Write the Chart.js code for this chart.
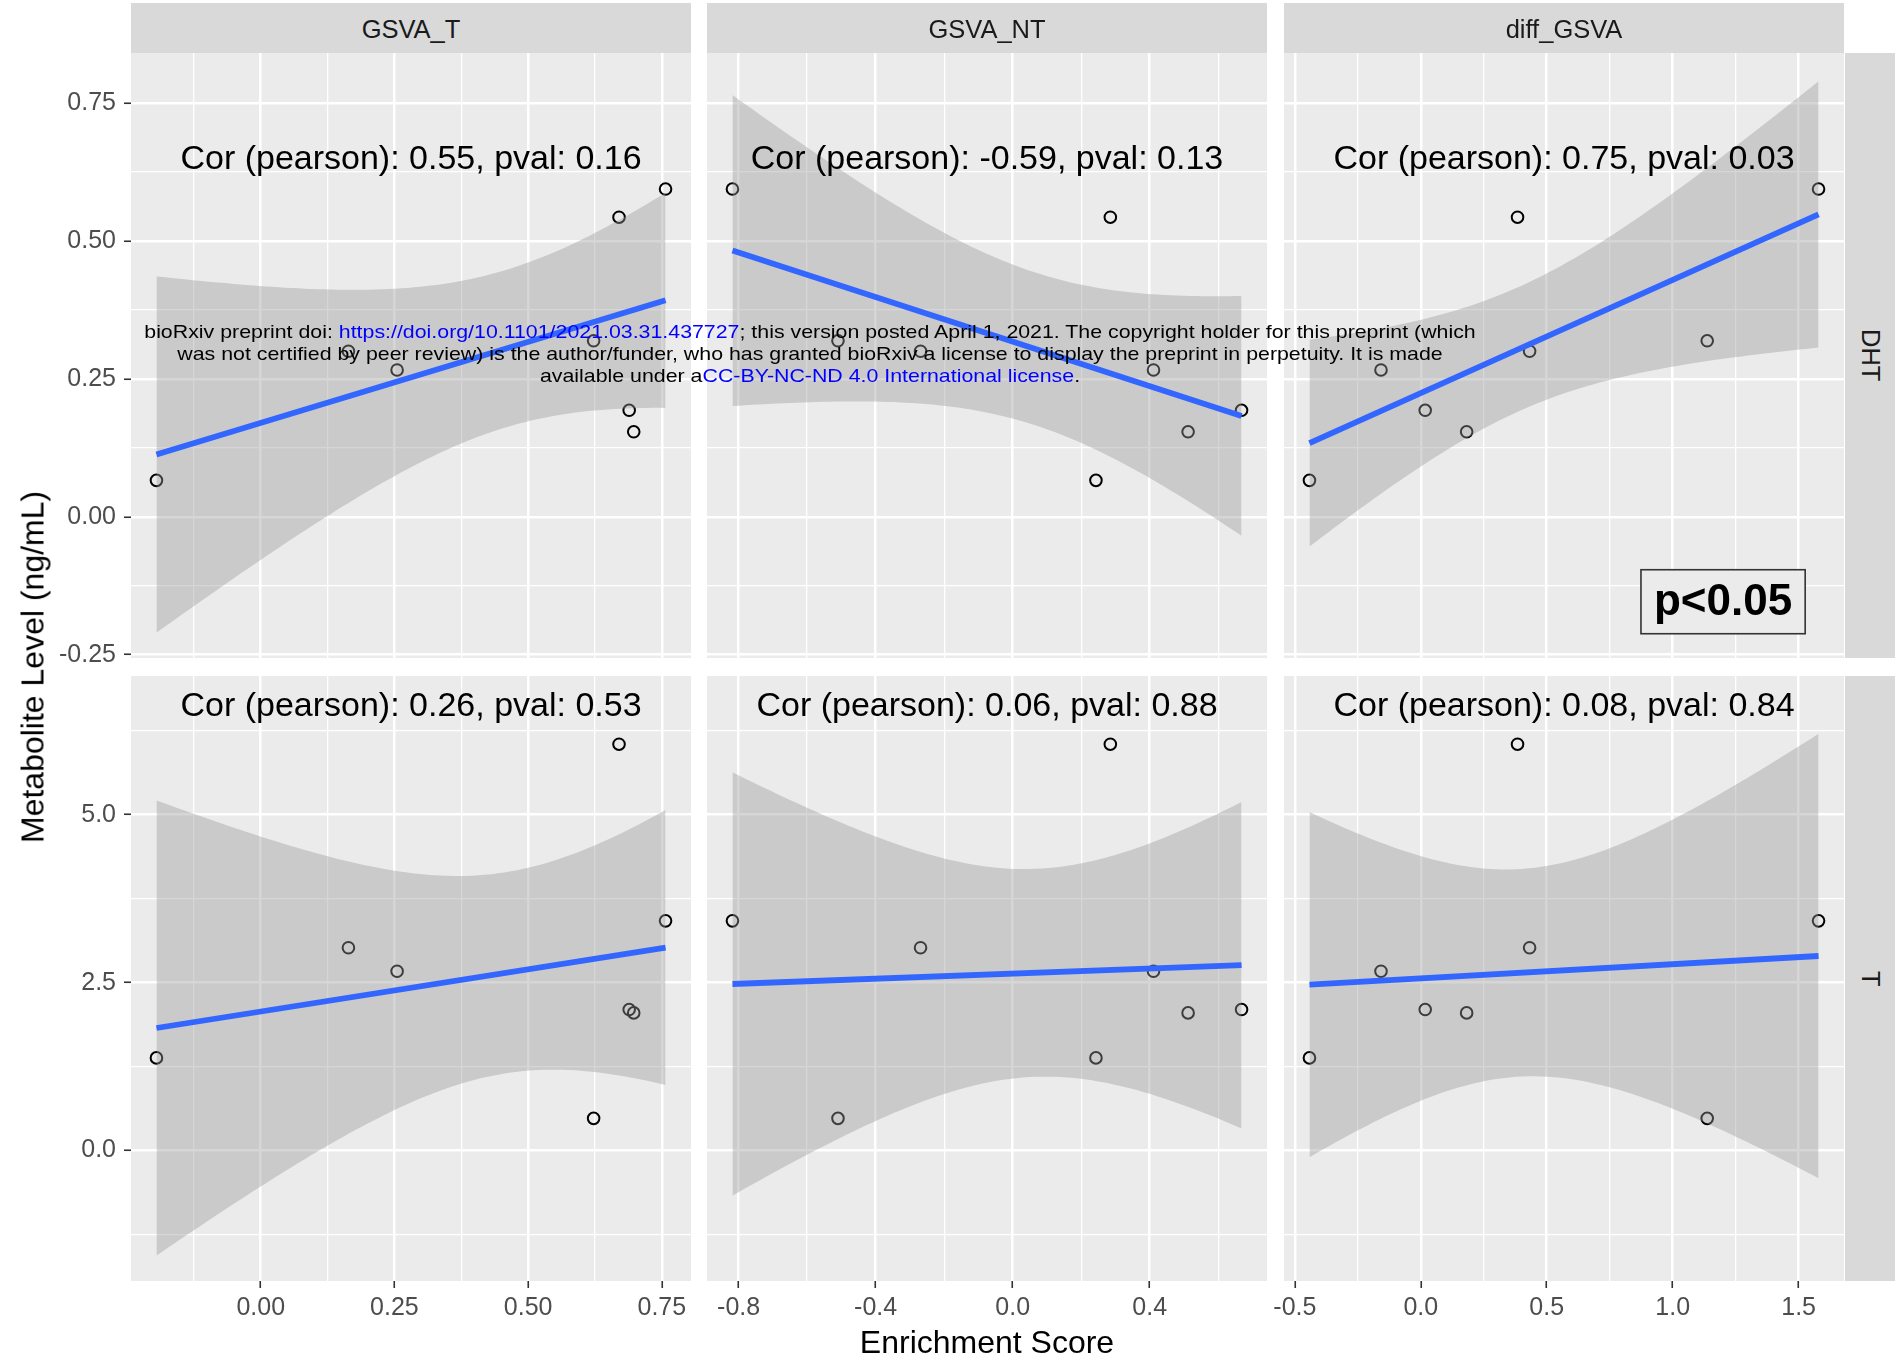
<!DOCTYPE html>
<html>
<head>
<meta charset="utf-8">
<title>Metabolite level vs enrichment score</title>
<script src="https://cdn.jsdelivr.net/npm/chart.js@4.4.1/dist/chart.umd.min.js"></script>
<style>
  html, body { margin: 0; padding: 0; background: #fff; }
  #page {
    position: relative; width: 1901px; height: 1372px; overflow: hidden;
    font-family: 'Liberation Sans', Arial, Helvetica, sans-serif;
  }
  #page canvas { position: absolute; }
  .strip {
    position: absolute; background: #D9D9D9; color: #1A1A1A; font-size: 25.5px;
    display: flex; align-items: center; justify-content: center; z-index: 2;
  }
  .strip.top span { padding-top: 3px; }
  .strip.side span { writing-mode: vertical-rl; }
  .axis-title { position: absolute; font-size: 32px; color: #000; white-space: nowrap; z-index: 2; }
  #wm {
    position: absolute; left: 0; width: 1620px; top: 321px; text-align: center;
    font-size: 19px; line-height: 21.8px; color: #000; white-space: nowrap;
    transform-origin: 810px 0; z-index: 3;
  }
  #wm .lnk { color: #0000FF; }
</style>
</head>
<body>
<div id="page">
  <div id="wm">
    <div id="wm1">bioRxiv preprint doi: <span class="lnk">https://doi.org/10.1101/2021.03.31.437727</span>; this version posted April 1, 2021. The copyright holder for this preprint (which</div>
    <div>was not certified by peer review) is the author/funder, who has granted bioRxiv a license to display the preprint in perpetuity. It is made</div>
    <div>available under a<span class="lnk">CC-BY-NC-ND 4.0 International license</span>.</div>
  </div>
</div>
<script>
// 8 samples, values
const GSVA_T    = [-0.195, 0.164, 0.255, 0.6225, 0.670, 0.757, 0.689, 0.6975];
const GSVA_NT   = [0.243, -0.269, 0.411, -0.510, 0.285, -0.818, 0.668, 0.512];
const DIFF_GSVA = [-0.442, 0.432, -0.158, 1.137, 0.384, 1.579, 0.0175, 0.182];
const DHT       = [0.066, 0.300, 0.266, 0.319, 0.543, 0.594, 0.193, 0.154];
const TESTO     = [1.38, 3.02, 2.67, 0.48, 6.05, 3.42, 2.10, 2.05];

const COLUMNS = ['GSVA_T', 'GSVA_NT', 'diff_GSVA'];
const ROWS = ['DHT', 'T'];

const COR_DHT = ['Cor (pearson): 0.55, pval: 0.16', 'Cor (pearson): -0.59, pval: 0.13', 'Cor (pearson): 0.75, pval: 0.03'];
const COR_T   = ['Cor (pearson): 0.26, pval: 0.53', 'Cor (pearson): 0.06, pval: 0.88', 'Cor (pearson): 0.08, pval: 0.84'];

const X_BREAKS_T    = [0, 0.25, 0.5, 0.75];
const X_BREAKS_NT   = [-0.8, -0.4, 0, 0.4];
const X_BREAKS_DIFF = [-0.5, 0, 0.5, 1, 1.5];
const Y_BREAKS_DHT  = [-0.25, 0, 0.25, 0.5, 0.75];
const Y_BREAKS_T    = [0, 2.5, 5];

// y ranges
const Y_LIMITS_DHT = [-0.256, 0.8406];
const Y_LIMITS_T   = [-1.941, 7.065];

const X_DECIMALS = [2, 1, 1];
const Y_DECIMALS = [2, 1];

const SIG_LABEL = 'p<0.05';

// layout (px)
const COL_LEFT = [131, 707, 1284];
const ROW_TOP = [53, 676];
const PANEL_W = 560, PANEL_H = 605;
const FONT = "'Liberation Sans', Arial, Helvetica, sans-serif";
const T_CRIT = 2.446912; // qt(0.975, df = 6)

Chart.defaults.font.family = FONT;

function mean(a) { return a.reduce((s, v) => s + v, 0) / a.length; }

// same thing geom_smooth(method = "lm") does
function smoothBand(xs, ys) {
  const n = xs.length, mx = mean(xs), my = mean(ys);
  let sxx = 0, sxy = 0;
  xs.forEach((x, i) => { sxx += (x - mx) ** 2; sxy += (x - mx) * (ys[i] - my); });
  const b = sxy / sxx, a = my - b * mx;
  let rss = 0;
  xs.forEach((x, i) => { rss += (ys[i] - a - b * x) ** 2; });
  const s = Math.sqrt(rss / (n - 2));
  const lo = Math.min(...xs), hi = Math.max(...xs);
  const line = [], lower = [], upper = [];
  for (let k = 0; k < 80; k++) {
    const x = lo + (hi - lo) * k / 79;
    const fit = a + b * x;
    const half = T_CRIT * s * Math.sqrt(1 / n + (x - mx) ** 2 / sxx);
    line.push({ x, y: fit });
    lower.push({ x, y: fit - half });
    upper.push({ x, y: fit + half });
  }
  return { line, lower, upper };
}

function expand(lo, hi) { const d = (hi - lo) * 0.05; return [lo - d, hi + d]; }

function withMinor(major, lo, hi) {
  const step = major[1] - major[0];
  const all = [];
  for (let i = -1; i < major.length; i++) {
    const m = (i < 0 ? major[0] - step : major[i]) + step / 2;
    if (m > lo && m < hi) all.push(m);
  }
  major.forEach(v => { if (v >= lo && v <= hi) all.push(v); });
  return all.sort((p, q) => p - q);
}

const isMajor = (major, v) => major.some(m => Math.abs(m - v) < 1e-9);

const xCols = [GSVA_T, GSVA_NT, DIFF_GSVA];
const yRows = [DHT, TESTO];
const xBreaks = [X_BREAKS_T, X_BREAKS_NT, X_BREAKS_DIFF];
const yBreaks = [Y_BREAKS_DHT, Y_BREAKS_T];
const yLimits = [Y_LIMITS_DHT, Y_LIMITS_T];
const corLabels = [COR_DHT, COR_T];

const bands = yRows.map(ys => xCols.map(xs => smoothBand(xs, ys)));
const xLimits = xCols.map(xs => expand(Math.min(...xs), Math.max(...xs)));

const panelDeco = {
  id: 'panelDeco',
  beforeDraw(chart) {
    const { ctx, chartArea: a } = chart;
    ctx.save();
    ctx.fillStyle = '#EBEBEB';
    ctx.fillRect(a.left, a.top, a.right - a.left, a.bottom - a.top);
    ctx.restore();
  },
  afterDraw(chart, args, opts) {
    const { ctx, scales: { x, y } } = chart;
    ctx.save();
    ctx.fillStyle = '#000';
    ctx.textAlign = 'center';
    ctx.textBaseline = 'middle';
    ctx.font = '34px ' + FONT;
    ctx.fillText(opts.label, x.getPixelForValue(opts.labelX), y.getPixelForValue(opts.labelY) + 3);
    if (opts.box) {
      ctx.font = 'bold 44px ' + FONT;
      const cx = x.getPixelForValue(opts.boxX), cy = y.getPixelForValue(opts.boxY);
      const w = ctx.measureText(opts.box).width + 26, h = 64;
      ctx.fillStyle = '#EBEBEB';
      ctx.fillRect(cx - w / 2, cy - h / 2, w, h);
      ctx.strokeStyle = '#333';
      ctx.lineWidth = 1.6;
      ctx.strokeRect(cx - w / 2, cy - h / 2, w, h);
      ctx.fillStyle = '#000';
      ctx.fillText(opts.box, cx, cy + 1);
    }
    ctx.restore();
  }
};

const page = document.getElementById('page');

function axisOpts(major, limits, decimals, showLabels, pos, fixedSize) {
  const ticks = withMinor(major, limits[0], limits[1]);
  return {
    type: 'linear', position: pos, min: limits[0], max: limits[1],
    afterBuildTicks: s => { s.ticks = ticks.map(v => ({ value: v })); },
    afterFit: s => { if (pos === 'left') s.width = fixedSize; else s.height = fixedSize; },
    border: { display: false },
    grid: {
      color: '#FFFFFF',
      lineWidth: c => (c.tick && isMajor(major, c.tick.value)) ? 2.5 : 1.3,
      drawTicks: showLabels,
      tickLength: 7,
      tickWidth: 1.6,
      tickColor: c => (c.tick && isMajor(major, c.tick.value)) ? '#333333' : 'rgba(0,0,0,0)'
    },
    ticks: {
      display: showLabels, autoSkip: false, maxRotation: 0, minRotation: 0,
      padding: pos === 'left' ? 8 : 5,
      color: '#4D4D4D', font: { size: 25 },
      callback: v => isMajor(major, v) ? Number(v).toFixed(decimals) : ''
    }
  };
}

for (let r = 0; r < 2; r++) {
  for (let c = 0; c < 3; c++) {
    const xs = xCols[c], ys = yRows[r], bd = bands[r][c];
    const padL = c === 0 ? 131 : 40, padR = 40, padT = 40, padB = r === 1 ? 90 : 40;
    const cv = document.createElement('canvas');
    const W = PANEL_W + padL + padR, H = PANEL_H + padT + padB;
    cv.width = W; cv.height = H;
    cv.style.width = W + 'px'; cv.style.height = H + 'px';
    cv.style.left = (COL_LEFT[c] - padL) + 'px';
    cv.style.top = (ROW_TOP[r] - padT) + 'px';
    page.appendChild(cv);

    const pts = xs.map((x, i) => ({ x, y: ys[i] }));
    const plugOpts = {
      label: corLabels[r][c],
      labelX: (Math.min(...xs) + Math.max(...xs)) / 2,
      labelY: Math.max(...ys) * 1.1
    };
    if (r === 0 && c === 2) { plugOpts.box = SIG_LABEL; plugOpts.boxX = 1.2; plugOpts.boxY = -0.154; }

    new Chart(cv, {
      type: 'scatter',
      data: {
        datasets: [
          { data: pts, order: 4, pointRadius: 5.8, pointBorderWidth: 2,
            pointBorderColor: '#000', pointBackgroundColor: 'rgba(0,0,0,0)', showLine: false },
          { data: bd.lower, order: 3, showLine: true, borderWidth: 0, borderColor: 'rgba(0,0,0,0)',
            pointRadius: 0, fill: false, tension: 0 },
          { data: bd.upper, order: 2, showLine: true, borderWidth: 0, borderColor: 'rgba(0,0,0,0)',
            pointRadius: 0, fill: '-1', backgroundColor: 'rgba(153,153,153,0.4)', tension: 0 },
          { data: [bd.line[0], bd.line[bd.line.length - 1]], order: 1, showLine: true,
            borderColor: '#3366FF', borderWidth: 5.8, borderCapStyle: 'butt', pointRadius: 0, tension: 0 }
        ]
      },
      options: {
        responsive: false, maintainAspectRatio: false, animation: false, devicePixelRatio: 1,
        layout: { padding: { left: c === 0 ? 0 : 40, right: 40, top: 40, bottom: 40 } },
        scales: {
          x: axisOpts(xBreaks[c], xLimits[c], X_DECIMALS[c], r === 1, 'bottom', r === 1 ? 50 : 0),
          y: axisOpts(yBreaks[r], yLimits[r], Y_DECIMALS[r], c === 0, 'left', c === 0 ? 131 : 0)
        },
        plugins: { legend: { display: false }, tooltip: { enabled: false }, panelDeco: plugOpts }
      },
      plugins: [panelDeco]
    });
  }
}

// facet strips
COLUMNS.forEach((name, c) => {
  const d = document.createElement('div');
  d.className = 'strip top';
  Object.assign(d.style, { left: COL_LEFT[c] + 'px', top: '3px', width: PANEL_W + 'px', height: '50px' });
  d.innerHTML = '<span>' + name + '</span>';
  page.appendChild(d);
});
ROWS.forEach((name, r) => {
  const d = document.createElement('div');
  d.className = 'strip side';
  Object.assign(d.style, { left: '1845px', top: ROW_TOP[r] + 'px', width: '50px', height: PANEL_H + 'px' });
  d.innerHTML = '<span>' + name + '</span>';
  page.appendChild(d);
});

// axis titles
const xt = document.createElement('div');
xt.className = 'axis-title';
xt.textContent = 'Enrichment Score';
Object.assign(xt.style, { left: '987px', top: '1342px', transform: 'translate(-50%, -50%)' });
page.appendChild(xt);

const yt = document.createElement('div');
yt.className = 'axis-title';
yt.textContent = 'Metabolite Level (ng/mL)';
Object.assign(yt.style, { left: '33px', top: '667px', transform: 'translate(-50%, -50%) rotate(-90deg)' });
page.appendChild(yt);

// the preprint stamp is stretched sideways in the source image
const mctx = document.createElement('canvas').getContext('2d');
mctx.font = '19px ' + FONT;
const wmWidth = mctx.measureText(document.getElementById('wm1').textContent).width;
document.getElementById('wm').style.transform = 'scaleX(' + (1333 / wmWidth) + ')';
</script>
</body>
</html>
